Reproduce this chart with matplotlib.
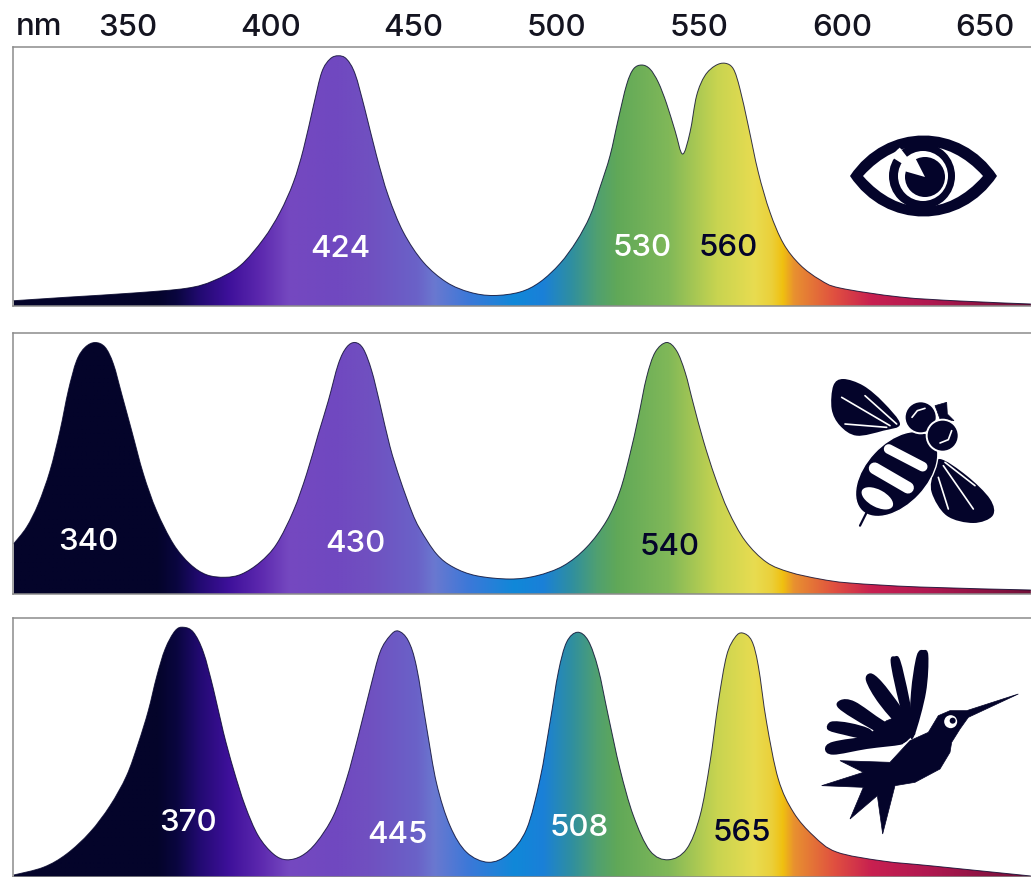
import numpy as np
import matplotlib
matplotlib.use('Agg')
import matplotlib.pyplot as plt
from matplotlib.colors import LinearSegmentedColormap
from matplotlib.patches import Circle, Ellipse, PathPatch, Wedge
from matplotlib.path import Path

plt.rcParams['font.family'] = ['Inter', 'DejaVu Sans']

# wavelength axis
wave_ticks = [350, 400, 450, 500, 550, 600, 650]

# human
human_nm = [309.9, 328.5, 351.9, 370.5, 379.9, 389.2, 397.4, 403.2, 407.9, 411.4, 414.9, 417.8, 420.7, 423.6, 426.5,
            429.5, 432.9, 437, 441.1, 446.4, 453.4, 461.5, 469.7, 477.9, 487.2, 494.2, 501.2, 507, 511.7, 515.2,
            518.7, 521.6, 524.5, 526.9, 529.8, 532.7, 535.6, 538.5, 541.5, 544.1, 546.7, 549, 551.9, 555.5, 559,
            561.9, 564.2, 567.1, 570.6, 574.7, 579.4, 585.2, 592.2, 599.2, 620.2, 641.2, 666]
human_val = [2.1, 3.5, 5.2, 7.1, 10.1, 16.1, 26.8, 37.5, 49.5, 62.8, 80.1, 93.5, 98.8, 100.1, 98.8,
             92.8, 78.8, 60.1, 44.1, 29.5, 17.5, 9.5, 5.5, 4.2, 5.6, 9.6, 17, 26, 36, 47.5,
             60.1, 74.8, 88.5, 94.8, 96.4, 94.8, 89.5, 81, 70, 60.8, 69.5, 84.1, 92.1, 96.1, 97.1,
             94.8, 86.8, 72.1, 53.5, 37.5, 25, 16.5, 10.5, 7.2, 3.6, 2, 0.8]

# bee
bee_nm = [309.9, 314.5, 318.6, 322.7, 326.2, 329.1, 332, 335, 338.5, 342, 344.9, 347.8, 351.3, 355.4, 360, 365.9,
          371.7, 377.5, 384, 389.8, 396.2, 402, 407.9, 412.5, 416.6, 420.1, 423.6, 426.5, 429.5, 432.4, 435.3,
          438.2, 441.7, 445.2, 449.3, 452.2, 458, 463.9, 472, 483.7, 493, 502.4, 510.5, 517.5, 522.2, 525.7, 528.6,
          531.5, 534.5, 538.5, 542, 545, 547.9, 551.4, 555.5, 560.1, 566, 573.5, 581.7, 592.2, 602.7, 627.2, 666]
bee_val = [20, 26.7, 36, 49.3, 65.3, 81.3, 93.3, 98.7, 100.6, 98.7, 92, 80, 65.3, 48, 33.3, 20,
           12, 7.7, 6.7, 8, 12.7, 20, 33.3, 48, 64, 77.3, 92, 98.7, 100.6, 98, 89.3,
           76, 59, 46, 33, 26, 16, 10.7, 7.3, 6, 7.3, 11.3, 18.7, 29.3, 41.3, 56, 70.7,
           86.7, 96.7, 100.6, 97.3, 88.7, 76, 61.3, 46.7, 33.3, 21.3, 12.7, 8.7, 6, 4.4, 2.8, 1.6]

# hummingbird
bird_nm = [310, 320.4, 328.5, 336.7, 343.7, 349.5, 353.6, 357.1, 360, 363, 366.5, 369.4, 372.9, 376.4, 379.9, 383.4,
           386.9, 391, 395.6, 400.9, 405.5, 410.8, 416, 421.9, 426.5, 430.6, 434.7, 438.2, 441.7, 444.6, 448.1, 451,
           454.5, 458, 462.7, 468.5, 476.1, 483.1, 489.5, 494.2, 497.7, 500.6, 503.5, 507.3, 511.1, 514.6, 518.1,
           522.2, 526.9, 532.7, 539.1, 545.5, 550.2, 553.7, 556.6, 559.5, 562.5, 565.1, 568.3, 570.6, 573.5, 577.6,
           582.9, 589.9, 598, 614.2, 631.7, 666]
bird_val = [0.8, 3.9, 9.2, 17.9, 28.5, 40.5, 53.5, 66.5, 80, 91.2, 98.5, 99.9, 97.9, 89.9, 75.2, 57.9,
            43.2, 28.5, 16.5, 9.2, 6.9, 8.5, 13.9, 24.5, 39.2, 56.5, 75.2, 89.9, 96.5, 98.4, 94.5, 84,
            60, 37.5, 20.5, 9.9, 5.9, 9.2, 19.2, 39.2, 61.9, 81.9, 93.9, 97.9, 94.5, 83.2, 64.5,
            43.2, 24.5, 10.5, 6.9, 11.2, 24.5, 45.9, 69.9, 88.5, 95.9, 97.6, 94.5, 84.5, 61.9, 39.2,
            25.9, 16.5, 10, 6.4, 4.4, 0.4]

# peak labels
human_peaks = ['424', '530', '560']
bee_peaks = ['340', '430', '540']
bird_peaks = ['370', '445', '508', '565']

# spectrum colours along the wavelength
stop_nm = [310, 360, 367, 375, 385, 396, 406, 422, 434, 451, 457, 469, 485, 495, 505, 514, 521, 539, 556, 569, 575,
           579, 583, 597, 610, 630, 666]
stop_col = ['#04042a', '#04042a', '#0a0640', '#220a72', '#3e109a', '#5c28ae', '#7548c0', '#7048c0', '#7050c0',
            '#6a62c8', '#6a78d0', '#3c78d8', '#1088d8', '#1a80d8', '#2f8fa0', '#50a070', '#60a858', '#80b858',
            '#c8d450', '#e8dc50', '#ebd03a', '#f0c010', '#e89030', '#e05040', '#c82050', '#b01850', '#701038']

NAVY = '#04042a'
W, H = 1031, 878
X0 = 13
nm_lo, nm_hi = 309.75, 666.05
FS = 22.5

fig = plt.figure(figsize=(W / 100, H / 100), dpi=100, facecolor='white')
cmap = LinearSegmentedColormap.from_list(
    'spectrum', [((n - stop_nm[0]) / (stop_nm[-1] - stop_nm[0]), c) for n, c in zip(stop_nm, stop_col)], N=1024)


def smooth_segments(pts):
    # catmull-rom through the read points, as bezier pieces
    pts = np.asarray(pts, dtype=float)
    p = np.vstack([pts[0], pts, pts[-1]])
    verts, codes = [], []
    for i in range(1, len(p) - 2):
        verts += [p[i] + (p[i + 1] - p[i - 1]) / 6, p[i + 1] - (p[i + 2] - p[i]) / 6, p[i + 1]]
        codes += [Path.CURVE4] * 3
    return verts, codes


def panel(top, bottom, nm, val, labels, label_nm, label_h, label_col):
    ax = fig.add_axes([X0 / W, 1 - bottom / H, (W - X0) / W, (bottom - top) / H])
    ax.set_yticks([])
    ax.set_xticks([])
    ax.spines['right'].set_visible(False)
    for s in ['top', 'left', 'bottom']:
        ax.spines[s].set_color('#8c8c8c')
        ax.spines[s].set_linewidth(1.1)

    pts = list(zip(nm, val))
    verts, codes = smooth_segments(pts)
    fill = Path([(nm[0], 0), pts[0]] + verts + [(nm[-1], 0), (nm[0], 0)],
                [Path.MOVETO, Path.LINETO] + codes + [Path.LINETO, Path.CLOSEPOLY])
    patch = PathPatch(fill, fc='none', ec='none', transform=ax.transData)
    ax.add_patch(patch)
    grad = np.linspace(0, 1, 1024).reshape(1, -1)
    im = ax.imshow(grad, extent=[stop_nm[0], stop_nm[-1], 0, 110], aspect='auto', cmap=cmap, origin='lower',
                   interpolation='bilinear')
    im.set_clip_path(patch)
    ax.set_xlim(nm_lo, nm_hi)
    ax.set_ylim(0, (bottom - top) * 0.4)

    edge = Path([pts[0]] + verts, [Path.MOVETO] + codes)
    ax.add_patch(PathPatch(edge, fc='none', ec=NAVY, lw=0.7, alpha=0.8))

    for t, xn, yn, c in zip(labels, label_nm, label_h, label_col):
        ax.text(xn, yn, t, color=c, fontsize=FS, ha='center', va='center', fontweight='medium')
    return ax


ax1 = panel(48, 307, human_nm, human_val, human_peaks, [424.2, 529.9, 560], [23, 23.6, 23.6],
            ['white', 'white', NAVY])
ax2 = panel(334, 595, bee_nm, bee_val, bee_peaks, [336, 429.7, 539.7], [21.2, 20.4, 19.2], ['white', 'white', NAVY])
ax3 = panel(619, 878, bird_nm, bird_val, bird_peaks, [371, 444.2, 508, 565], [22, 17.2, 20, 18],
            ['white', 'white', 'white', NAVY])

ax1.xaxis.tick_top()
ax1.set_xticks(wave_ticks)
ax1.set_xticklabels([str(t) for t in wave_ticks], fontsize=FS, color='#141420', fontweight='medium')
ax1.tick_params(axis='x', length=0, pad=4)
fig.text(39 / W, 1 - 27 / H, 'nm', fontsize=FS, color='#141420', ha='center', va='center', fontweight='medium')

# icons on a pixel overlay
ov = fig.add_axes([0, 0, 1, 1], facecolor='none')
ov.set_xlim(0, W)
ov.set_ylim(H, 0)
ov.axis('off')


def blob(pts, ox, oy, fc=NAVY):
    # closed smooth shape, points given in crop coordinates (3x)
    pts = np.asarray(pts, dtype=float) / 3 + [ox, oy]
    n = len(pts)
    verts, codes = [pts[0]], [Path.MOVETO]
    for i in range(n):
        a, b, c, d = pts[i - 1], pts[i], pts[(i + 1) % n], pts[(i + 2) % n]
        verts += [b + (c - a) / 6, c - (d - b) / 6, c]
        codes += [Path.CURVE4] * 3
    ov.add_patch(PathPatch(Path(verts, codes), fc=fc, ec='none'))


def poly(pts, ox, oy, fc=NAVY):
    pts = np.asarray(pts, dtype=float) / 3 + [ox, oy]
    ov.fill(pts[:, 0], pts[:, 1], fc=fc, ec=fc, lw=0.5)


def strokes(segs, ox, oy, col='white', lw=1.2):
    for s in segs:
        s = np.asarray(s, dtype=float) / 3 + [ox, oy]
        ov.plot(s[:, 0], s[:, 1], color=col, lw=lw, solid_capstyle='round')


def almond(x0, x1, y_top, y_bot, fc):
    c4 = Path.CURVE4
    ov.add_patch(PathPatch(Path([(x0, 177), (x0 + 36, y_top), (x1 - 36, y_top), (x1, 177),
                                 (x1 - 36, y_bot), (x0 + 36, y_bot), (x0, 177)],
                                [Path.MOVETO, c4, c4, c4, c4, c4, c4]), fc=fc, ec='none'))


# eye
almond(850, 997, 123, 231, NAVY)
almond(863, 983, 137, 218, 'white')
ov.add_patch(Circle((922, 177), 33, fc=NAVY, ec='none'))
ov.add_patch(Circle((923, 177), 25, fc='white', ec='none'))
ov.add_patch(Circle((925, 178), 20, fc=NAVY, ec='none'))
ov.add_patch(Wedge((925, 178), 22, 196, 243, fc='white', ec='none'))
ov.add_patch(Wedge((922, 177), 36, 212, 232, width=13, fc='white', ec='none'))

# bee, crop origin (800, 120)
bx, by = 800, 120
blob([(300, 915), (250, 850), (190, 800), (130, 780), (100, 800), (95, 870), (120, 920), (170, 950), (250, 935)], bx, by)
blob([(420, 1020), (500, 1070), (570, 1140), (578, 1190), (520, 1212), (440, 1190), (395, 1120), (400, 1060)], bx, by)
strokes([[(125, 835), (270, 920)], [(195, 830), (290, 915)], [(135, 915), (260, 925)],
         [(430, 1040), (520, 1170)], [(435, 1030), (525, 1100)], [(415, 1075), (445, 1170)]], bx, by)
ov.add_patch(Ellipse((bx + 290 / 3, by + 1065 / 3), 2 * 152 / 3, 2 * 92 / 3, angle=-47, fc=NAVY, ec='white', lw=1))
strokes([[(266, 990), (368, 1043)]], bx, by, lw=7)
strokes([[(224, 1048), (324, 1106)]], bx, by, lw=8.5)
ov.add_patch(Ellipse((bx + 232 / 3, by + 1138 / 3), 90 / 3 * 1.15, 52 / 3, angle=28, fc='white', ec='none'))
strokes([[(200, 1180), (180, 1220)]], bx, by, col=NAVY, lw=1.6)
poly([(405, 860), (440, 850), (442, 885), (462, 905), (420, 900)], bx, by)
ov.add_patch(Circle((bx + 362 / 3, by + 895 / 3), 48 / 3, fc=NAVY, ec='white', lw=1.4))
ov.add_patch(Circle((bx + 428 / 3, by + 950 / 3), 48 / 3, fc=NAVY, ec='white', lw=1.4))
strokes([[(336, 895), (352, 875), (375, 868)], [(420, 972), (445, 962), (455, 935)]], bx, by, lw=1.2)

# hummingbird, crop origin (800, 620)
hx, hy = 800, 620
poly([(345, 345), (335, 275), (300, 290), (260, 305), (215, 340), (205, 375), (310, 372)], hx, hy)
blob([(330, 345), (333, 220), (350, 110), (370, 93), (385, 110), (378, 220), (345, 345)], hx, hy)
blob([(325, 340), (297, 250), (272, 130), (285, 112), (301, 125), (326, 230), (336, 300)], hx, hy)
blob([(315, 340), (238, 255), (198, 185), (212, 163), (245, 188), (300, 260), (336, 320)], hx, hy)
blob([(300, 372), (205, 325), (116, 268), (122, 243), (165, 248), (250, 305), (325, 345)], hx, hy)
blob([(210, 362), (130, 347), (83, 332), (93, 308), (150, 312), (212, 332)], hx, hy)
blob([(310, 374), (200, 390), (100, 407), (75, 390), (100, 368), (210, 355)], hx, hy)
poly([(655, 225), (500, 275), (450, 275), (415, 290), (385, 340), (330, 365), (270, 430), (120, 425), (190, 460),
      (65, 500), (190, 505), (150, 600), (232, 530), (248, 645), (285, 500), (345, 490), (420, 450), (450, 400),
      (455, 370), (480, 330), (505, 295)], hx, hy)
ov.add_patch(Circle((hx + 452 / 3, hy + 308 / 3), 6.5, fc='white', ec='none'))
ov.add_patch(Circle((hx + 458 / 3, hy + 305 / 3), 3, fc=NAVY, ec='none'))

fig.savefig('out.png', dpi=100, facecolor='white')
